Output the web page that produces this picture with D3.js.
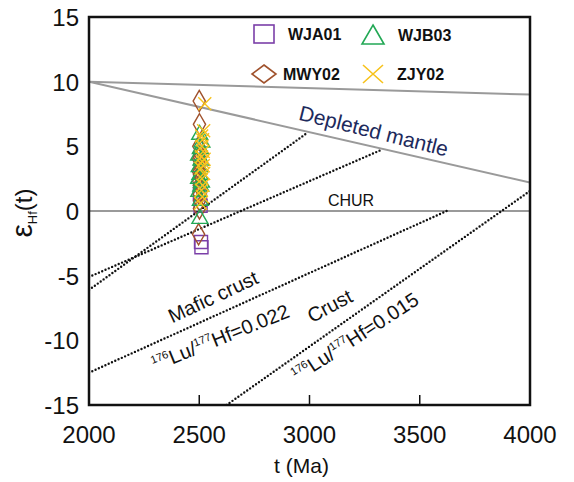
<!DOCTYPE html>
<html>
<head>
<meta charset="utf-8">
<script src="https://cdn.jsdelivr.net/npm/d3@7"></script>
<style>
  body { margin: 0; background: #fff; }
  text { font-family: "Liberation Sans", Arial, sans-serif; }
</style>
</head>
<body>
<div id="chart"></div>
<script>
var margin = { top: 17, right: 44, bottom: 77, left: 89 };
var width = 574 - margin.left - margin.right;
var height = 482 - margin.top - margin.bottom;

// axis ticks
var xTicks = [2000, 2500, 3000, 3500, 4000];
var yTicks = [15, 10, 5, 0, -5, -10, -15];

// reference evolution lines [t, eps]
var upperLine = [[2000, 10], [4000, 9.0]];
var depletedMantle = [[2000, 10], [4000, 2.2]];
var chur = [[2000, 0], [4000, 0]];
// dotted crust evolution lines
var crustLines = [
  [[2000, -5.1], [3329, 4.75]],
  [[2000, -6.1], [2993, 6.08]],
  [[2000, -12.5], [3622, 0]],
  [[2624, -15], [4000, 1.55]]
];

// zircon samples [t (Ma), eps Hf(t)]
var wja01 = [[2508, -2.4], [2510, -2.8], [2506, 0.4], [2503, 1.3]];
var wjb03 = [[2503, -0.6], [2505, 0.8], [2498, 1.5], [2510, 2.2], [2503, 2.8], [2500, 3.4],
  [2508, 3.9], [2497, 4.3], [2505, 4.8], [2512, 5.3], [2502, 5.9], [2507, 1.9], [2497, 2.5]];
var mwy02 = [[2500, 8.5], [2501, 6.7], [2498, 5.0], [2500, 4.5], [2497, 4.0], [2502, 3.6],
  [2499, 3.2], [2501, 2.8], [2498, 2.3], [2503, 1.8], [2500, 1.3], [2502, 0.8], [2497, -1.8],
  [2500, 2.0], [2498, 3.0], [2500, 4.2], [2501, 0.2]];
var zjy02 = [[2525, 8.3], [2520, 6.2], [2515, 5.5], [2512, 5.0], [2518, 4.6], [2510, 4.2],
  [2515, 3.8], [2508, 3.3], [2520, 2.9], [2512, 2.5], [2516, 2.0], [2510, 1.6], [2514, 1.1],
  [2506, 0.6], [2518, 3.5], [2522, 4.0], [2511, 5.8]];

var purple = "#7b3fa8", green = "#22a855", brown = "#a0522d", yellow = "#f7c21b";

var x = d3.scaleLinear().domain([2000, 4000]).range([0, width]);
var y = d3.scaleLinear().domain([-15, 15]).range([height, 0]);

var svg = d3.select("#chart").append("svg")
  .attr("width", 574)
  .attr("height", 482)
  .append("g")
    .attr("transform", "translate(" + margin.left + "," + margin.top + ")");

var line = d3.line().x(function (d) { return x(d[0]); }).y(function (d) { return y(d[1]); });

svg.append("defs").append("clipPath").attr("id", "clip")
  .append("rect").attr("width", width).attr("height", height);

var plot = svg.append("g").attr("clip-path", "url(#clip)");

// gray reference lines
[upperLine, depletedMantle, chur].forEach(function (l) {
  plot.append("path").datum(l).attr("d", line)
    .attr("fill", "none").attr("stroke", "#9a9a9a").attr("stroke-width", 2);
});

// dotted lines
crustLines.forEach(function (l) {
  plot.append("path").datum(l).attr("d", line)
    .attr("fill", "none").attr("stroke", "#111").attr("stroke-width", 2.4)
    .attr("stroke-linecap", "round").attr("stroke-dasharray", "0,3.6");
});

// markers
var sq = d3.symbol().type(d3.symbolSquare);
var tri = d3.symbol().type(d3.symbolTriangle);
var dia = d3.symbol().type(d3.symbolDiamond);

function drawSymbols(data, gen, size, color) {
  plot.selectAll(null).data(data).enter().append("path")
    .attr("d", gen.size(size)())
    .attr("transform", function (d) { return "translate(" + x(d[0]) + "," + y(d[1]) + ")"; })
    .attr("fill", "none").attr("stroke", color).attr("stroke-width", 1.4);
}
function drawCross(data, s, color) {
  plot.selectAll(null).data(data).enter().append("path")
    .attr("d", "M" + (-s) + "," + (-s) + "L" + s + "," + s + "M" + (-s) + "," + s + "L" + s + "," + (-s))
    .attr("transform", function (d) { return "translate(" + x(d[0]) + "," + y(d[1]) + ")"; })
    .attr("fill", "none").attr("stroke", color).attr("stroke-width", 1.4);
}
drawSymbols(wja01, sq, 170, purple);
drawSymbols(mwy02, dia, 130, brown);
drawSymbols(wjb03, tri, 110, green);
drawCross(zjy02, 6.5, yellow);

// annotations
function label(txt, cx, cy, ang, size, color) {
  return svg.append("text")
    .attr("transform", "translate(" + (cx - margin.left) + "," + (cy - margin.top) + ") rotate(" + ang + ")")
    .attr("text-anchor", "middle")
    .attr("font-size", size)
    .attr("fill", color || "#111")
    .text(txt);
}
label("Depleted mantle", 372, 138, 14, 21, "#1d2a5c");
label("CHUR", 351, 206, 0, 16);
label("Mafic crust", 216, 303, -25, 20);
label("Crust", 333, 312, -28, 20);

function isoLabel(cx, cy, ang, val) {
  var t = label("", cx, cy, ang, 20);
  t.append("tspan").attr("font-size", 11).attr("dy", -8).text("176");
  t.append("tspan").attr("dy", 8).text("Lu/");
  t.append("tspan").attr("font-size", 11).attr("dy", -8).text("177");
  t.append("tspan").attr("dy", 8).text("Hf=" + val);
}
isoLabel(223, 344, -22, "0.022");
isoLabel(359, 343, -33, "0.015");

// frame
svg.append("rect").attr("width", width).attr("height", height)
  .attr("fill", "none").attr("stroke", "#111").attr("stroke-width", 2.5);

// inside ticks on bottom
svg.selectAll(".xtick").data(xTicks.slice(1, -1)).enter().append("line")
  .attr("x1", function (d) { return x(d); }).attr("x2", function (d) { return x(d); })
  .attr("y1", height).attr("y2", height - 10)
  .attr("stroke", "#111").attr("stroke-width", 1.5);

// tick labels
svg.selectAll(".xl").data(xTicks).enter().append("text")
  .attr("x", function (d) { return x(d); }).attr("y", height + 38)
  .attr("text-anchor", "middle").attr("font-size", 24).attr("fill", "#111")
  .text(function (d) { return d; });
svg.selectAll(".yl").data(yTicks).enter().append("text")
  .attr("x", -10).attr("y", function (d) { return y(d) + 9; })
  .attr("text-anchor", "end").attr("font-size", 24).attr("fill", "#111")
  .text(function (d) { return d; });

// axis titles
svg.append("text").attr("x", width / 2 - 8).attr("y", height + 68)
  .attr("text-anchor", "middle").attr("font-size", 21).attr("fill", "#111").text("t (Ma)");

var yt = svg.append("text")
  .attr("transform", "translate(" + (-57) + "," + (height / 2 + 2) + ") rotate(-90)")
  .attr("text-anchor", "middle").attr("font-size", 24).attr("fill", "#111");
yt.append("tspan").attr("font-size", 30).text("ε");
yt.append("tspan").attr("font-size", 13).attr("dy", 5).text("Hf");
yt.append("tspan").attr("dy", -5).text("(t)");

// legend
var lg = svg.append("g").attr("transform", "translate(" + (-margin.left) + "," + (-margin.top) + ")");
var legendItems = [
  { name: "WJA01", kind: "sq", color: purple, x: 264, y: 34, tx: 288 },
  { name: "WJB03", kind: "tri", color: green, x: 373, y: 35, tx: 398 },
  { name: "MWY02", kind: "dia", color: brown, x: 264, y: 74, tx: 283 },
  { name: "ZJY02", kind: "x", color: yellow, x: 373, y: 74, tx: 397 }
];
legendItems.forEach(function (it) {
  var g = lg.append("g").attr("transform", "translate(" + it.x + "," + it.y + ")");
  if (it.kind === "sq") g.append("rect").attr("x", -10).attr("y", -9).attr("width", 20).attr("height", 18);
  if (it.kind === "tri") g.append("path").attr("d", "M0,-10L11,9L-11,9Z");
  if (it.kind === "dia") g.append("path").attr("d", "M0,-9L12,0L0,9L-12,0Z");
  if (it.kind === "x") g.append("path").attr("d", "M-10,-9L10,9M-10,9L10,-9");
  g.selectAll("*").attr("fill", "none").attr("stroke", it.color).attr("stroke-width", 1.6);
  lg.append("text").attr("x", it.tx).attr("y", it.y + 6)
    .attr("font-size", 16).attr("font-weight", "bold").attr("fill", "#111").text(it.name);
});
</script>
</body>
</html>
